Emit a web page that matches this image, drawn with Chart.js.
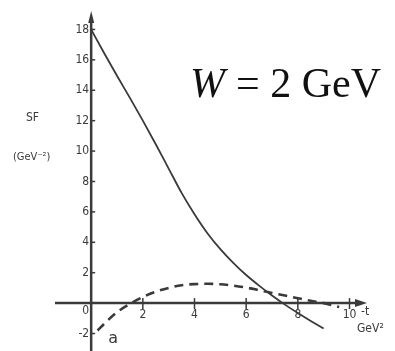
<!DOCTYPE html>
<html>
<head>
<meta charset="utf-8">
<script src="https://cdn.jsdelivr.net/npm/chart.js@4"></script>
<style>
  html, body { margin: 0; padding: 0; background: #fff; }
  #wrap { width: 395px; height: 351px; position: relative; }
</style>
</head>
<body>
<div id="wrap"><canvas id="myChart" width="395" height="351"></canvas></div>
<script>
// curve values (x = -t in GeV^2, y = SF)
const solidT = [0, 0.5, 1, 1.5, 2, 2.5, 3, 3.5, 4, 4.5, 5, 5.5, 6, 6.5, 7, 7.5, 8, 8.5, 9];
const solidSF = [18, 16.45, 14.95, 13.5, 12.0, 10.45, 8.85, 7.25, 5.85, 4.6, 3.55, 2.65, 1.85, 1.15, 0.5, -0.1, -0.65, -1.17, -1.67];
const dashT = [0.25, 0.6, 1, 1.5, 2, 2.5, 3, 3.5, 4, 4.5, 5, 5.5, 6, 6.5, 7, 7.5, 8, 8.5, 9, 9.6];
const dashSF = [-1.8, -1.2, -0.6, -0.05, 0.4, 0.75, 1.0, 1.18, 1.25, 1.27, 1.24, 1.15, 1.02, 0.85, 0.67, 0.5, 0.32, 0.15, 0.0, -0.25];
const yTicks = [18, 16, 14, 12, 10, 8, 6, 4, 2, 0, -2];
const xTicks = [2, 4, 6, 8, 10];

const toPts = (xs, ys) => xs.map((x, i) => ({ x: x, y: ys[i] }));
const ink = "#3a3a3a";

// draws the two axes through the origin, ticks and the labels
const axesPlugin = {
  id: "axes",
  beforeDatasetsDraw(chart) {
    const ctx = chart.ctx;
    const xs = chart.scales.x, ys = chart.scales.y;
    const x0 = xs.getPixelForValue(0), y0 = ys.getPixelForValue(0);
    const left = chart.chartArea.left, right = chart.chartArea.right;
    const top = chart.chartArea.top, bottom = chart.chartArea.bottom;
    ctx.save();
    ctx.strokeStyle = ink;
    ctx.fillStyle = ink;
    ctx.lineWidth = 2.5;
    // x axis
    ctx.beginPath();
    ctx.moveTo(left, y0);
    ctx.lineTo(right - 4, y0);
    ctx.stroke();
    ctx.beginPath();
    ctx.moveTo(right + 2, y0);
    ctx.lineTo(right - 10, y0 - 4);
    ctx.lineTo(right - 10, y0 + 4);
    ctx.closePath();
    ctx.fill();
    // y axis
    ctx.beginPath();
    ctx.moveTo(x0, bottom);
    ctx.lineTo(x0, top + 4);
    ctx.stroke();
    ctx.beginPath();
    ctx.moveTo(x0, top - 4);
    ctx.lineTo(x0 - 3, top + 8);
    ctx.lineTo(x0 + 3, top + 8);
    ctx.closePath();
    ctx.fill();

    ctx.lineWidth = 1.5;
    ctx.font = "12px 'DejaVu Sans Condensed', 'DejaVu Sans'";
    ctx.textBaseline = "middle";
    ctx.textAlign = "right";
    yTicks.forEach(v => {
      const py = ys.getPixelForValue(v);
      if (v !== 0) {
        ctx.beginPath();
        ctx.moveTo(x0, py);
        ctx.lineTo(x0 + 4, py);
        ctx.stroke();
      }
      ctx.fillText(String(v), x0 - 2, v === 0 ? py + 8 : py);
    });
    ctx.textAlign = "center";
    ctx.textBaseline = "top";
    xTicks.forEach(v => {
      const px = xs.getPixelForValue(v);
      ctx.beginPath();
      ctx.moveTo(px, y0 - 5);
      ctx.lineTo(px, y0 + 6);
      ctx.stroke();
      ctx.fillText(String(v), px, y0 + 6);
    });
    ctx.textAlign = "left";
    ctx.fillText("-t", right - 4, y0 + 3);
    ctx.fillText("GeV\u00b2", right - 8, y0 + 20);
    ctx.fillText("SF", 26, 112);
    ctx.font = "11px 'DejaVu Sans Condensed', 'DejaVu Sans'";
    ctx.fillText("(GeV\u207b\u00b2)", 13, 152);
    ctx.font = "16px 'DejaVu Sans'";
    ctx.fillText("a", x0 + 17, bottom - 20);

    // title
    ctx.fillStyle = "#111";
    ctx.textBaseline = "alphabetic";
    ctx.font = "italic 42px 'Liberation Serif'";
    ctx.fillText("W", 190, 97);
    ctx.font = "42px 'Liberation Serif'";
    ctx.fillText("= 2 GeV", 236, 97);
    ctx.restore();
  }
};

var ctx = document.getElementById("myChart").getContext("2d");
var myChart = new Chart(ctx, {
  type: "line",
  data: {
    datasets: [
      {
        data: toPts(solidT, solidSF),
        borderColor: ink,
        borderWidth: 1.8,
        pointRadius: 0,
        cubicInterpolationMode: "monotone",
        fill: false
      },
      {
        data: toPts(dashT, dashSF),
        borderColor: ink,
        borderWidth: 2.6,
        borderDash: [9, 6],
        pointRadius: 0,
        cubicInterpolationMode: "monotone",
        fill: false
      }
    ]
  },
  options: {
    responsive: false,
    animation: false,
    layout: { padding: { left: 55, right: 30, top: 15, bottom: 0 } },
    plugins: { legend: { display: false }, tooltip: { enabled: false } },
    scales: {
      x: { type: "linear", min: -1.4, max: 10.6, display: false },
      y: { type: "linear", min: -3.15, max: 18.95, display: false }
    }
  },
  plugins: [axesPlugin]
});
</script>
</body>
</html>
